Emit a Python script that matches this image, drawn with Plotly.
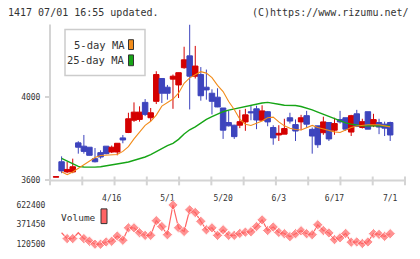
import plotly.graph_objects as go

# ---------------- data ----------------
idx = list(range(61))
tick_idx = [10, 20, 30, 40, 50, 60]
tick_text = ["4/16", "5/1", "5/20", "6/3", "6/17", "7/1"]

opens = [3616, 3690, 3641, 3641, 3781, 3765, 3760, 3705, 3734, 3765,
         3737, 3737, 3805, 3831, 3890, 3894, 3976, 3902, 3981, 4091,
         4049, 4088, 4060, 4143, 4200, 4102, 4110, 4049, 4020, 4001,
         3949, 3879, 3866, 3866, 3882, 3931, 3945, 3890, 3931, 3855,
         3819, 3823, 3902, 3869, 3882, 3912, 3846, 3863, 3830, 3879,
         3842, 3893, 3902, 3833, 3921, 3855, 3931, 3863, 3879, 3871,
         3879]
highs = [3618, 3716, 3690, 3705, 3789, 3819, 3760, 3756, 3745, 3765,
         3768, 3779, 3819, 3926, 3976, 3957, 3992, 3949, 4126, 4091,
         4060, 4110, 4120, 4244, 4351, 4248, 4146, 4134, 4039, 4044,
         3949, 3937, 3868, 3940, 3945, 3960, 3960, 3962, 3934, 3866,
         3866, 3897, 3926, 3894, 3916, 3935, 3855, 3863, 3907, 3879,
         3902, 3935, 3902, 3916, 3940, 3897, 3931, 3921, 3897, 3883,
         3883]
lows = [3616, 3635, 3635, 3635, 3729, 3729, 3720, 3687, 3705, 3726,
        3732, 3721, 3779, 3828, 3882, 3883, 3910, 3886, 3968, 3973,
        3989, 3945, 3997, 4138, 3942, 4091, 3984, 3989, 3918, 3953,
        3800, 3860, 3800, 3852, 3839, 3890, 3847, 3886, 3861, 3772,
        3790, 3823, 3874, 3790, 3842, 3853, 3729, 3757, 3820, 3790,
        3820, 3874, 3839, 3814, 3857, 3850, 3847, 3857, 3823, 3814,
        3790]
closes = [3618, 3646, 3653, 3666, 3760, 3740, 3721, 3690, 3713, 3729,
          3760, 3779, 3795, 3897, 3929, 3929, 3918, 3926, 4110, 4020,
          4020, 4102, 4119, 4181, 4102, 4151, 4008, 4036, 3981, 3954,
          3842, 3863, 3811, 3883, 3916, 3926, 3891, 3935, 3882, 3805,
          3827, 3850, 3886, 3838, 3902, 3871, 3814, 3772, 3882, 3800,
          3874, 3882, 3847, 3912, 3860, 3883, 3847, 3893, 3857, 3852,
          3819]

ma5 = [None, 3642, 3628, 3641, 3658, 3676, 3694, 3710, 3720, 3722,
       3722, 3725, 3740, 3763, 3800, 3835, 3865, 3885, 3915, 3958,
       3975, 3992, 4020, 4068, 4094, 4111, 4124, 4117, 4095, 4058,
       4028, 3980, 3942, 3895, 3871, 3865, 3874, 3886, 3902, 3905,
       3882, 3863, 3851, 3845, 3843, 3856, 3865, 3855, 3847, 3842,
       3834, 3831, 3842, 3855, 3862, 3866, 3868, 3868, 3868, 3863,
       3858]
ma25 = [None, 3706, 3693, 3679, 3668, 3665, 3664, 3664, 3666, 3670,
        3673, 3680, 3684, 3689, 3696, 3704, 3713, 3724, 3740, 3756,
        3768, 3779, 3798, 3824, 3844, 3858, 3877, 3894, 3907, 3920,
        3931, 3939, 3945, 3949, 3956, 3964, 3970, 3973, 3976, 3973,
        3967, 3962, 3962, 3961, 3956, 3949, 3940, 3929, 3918, 3908,
        3896, 3887, 3877, 3871, 3866, 3863, 3863, 3863, 3863, 3863,
        3863]

volume = [None, 267300, 192000, 192000, 267300, 192000, 158100, 120500, 120500, 149400,
          158100, 224600, 170700, 330000, 330000, 267300, 233400, 233400, 421600, 346400,
          242200, 622400, 330000, 283600, 559700, 525800, 412900, 304900, 330000, 233400,
          304900, 233400, 233400, 258500, 274800, 279900, 346400, 431700, 296200, 340100,
          271100, 254800, 217100, 254800, 292400, 254800, 242200, 368900, 296200, 264800,
          179500, 202100, 258500, 145600, 149400, 129300, 149400, 254800, 246000, 220900,
          254800]
vol_ticks = [120500, 371450, 622400]
price_ticks = [3600, 4000]

# ---------------- style ----------------
W, H = 420, 259
L, R = 50, 15
RED = "#d40000"
BLUE = "#3d44bd"
ORANGE = "#f28c1a"
GREEN = "#16a516"
PINK = "#ff6464"
AX = "#d4d4d4"
TXT = "#333333"
MONO = "DejaVu Sans Mono"


def px(x):
    return (x - L) / (W - L - R)


def py(y):
    return 1 - y / H


vol_marker_size = [0 if i in (1, 4) else 8 for i in idx]

fig = go.Figure()
fig.add_trace(go.Scatter(x=idx, y=ma25, mode="lines", line=dict(color=GREEN, width=1.4),
                         showlegend=False, xaxis="x", yaxis="y"))
fig.add_trace(go.Scatter(x=idx, y=ma5, mode="lines", line=dict(color=ORANGE, width=1.1),
                         showlegend=False, xaxis="x", yaxis="y"))
fig.add_trace(go.Candlestick(
    x=idx, open=opens, high=highs, low=lows, close=closes,
    increasing=dict(line=dict(color=RED, width=1), fillcolor=RED),
    decreasing=dict(line=dict(color=BLUE, width=1), fillcolor=BLUE),
    whiskerwidth=0, showlegend=False, xaxis="x", yaxis="y"))
fig.add_trace(go.Scatter(x=idx, y=volume, mode="lines+markers",
                         line=dict(color=PINK, width=1.2),
                         marker=dict(symbol="diamond", size=vol_marker_size, color=PINK),
                         showlegend=False, xaxis="x", yaxis="y2"))

shapes = []
# axis lines
shapes.append(dict(type="line", xref="paper", yref="paper", x0=px(50), x1=px(50),
                   y0=py(188), y1=py(25), line=dict(color=AX, width=2)))
shapes.append(dict(type="line", xref="paper", yref="paper", x0=px(50), x1=px(405),
                   y0=py(184), y1=py(184), line=dict(color=AX, width=2)))
for k in range(12):
    xx = 50 + k * (355 / 11)
    shapes.append(dict(type="line", xref="paper", yref="paper", x0=px(xx), x1=px(xx),
                       y0=py(189), y1=py(180), line=dict(color=AX, width=2)))
# MA legend box
shapes.append(dict(type="rect", xref="paper", yref="paper", x0=px(65), x1=px(145),
                   y0=py(77), y1=py(30), line=dict(color="#cccccc", width=1.5),
                   fillcolor="white"))
shapes.append(dict(type="rect", xref="paper", yref="paper", x0=px(128.5), x1=px(133.5),
                   y0=py(50.5), y1=py(40.5), line=dict(color="#333333", width=1),
                   fillcolor=ORANGE))
shapes.append(dict(type="rect", xref="paper", yref="paper", x0=px(128.5), x1=px(133.5),
                   y0=py(67), y1=py(56), line=dict(color="#333333", width=1),
                   fillcolor=GREEN))
# volume legend swatch
shapes.append(dict(type="rect", xref="paper", yref="paper", x0=px(101), x1=px(107),
                   y0=py(228), y1=py(213), line=dict(color="#333333", width=1),
                   fillcolor=PINK))

annotations = [
    dict(text="1417 07/01 16:55 updated.", xref="paper", yref="paper", x=px(6), y=py(12.5),
         xanchor="left", yanchor="middle", showarrow=False, font=dict(family=MONO, size=10, color=TXT)),
    dict(text="(C)https://www.rizumu.net/", xref="paper", yref="paper", x=px(411), y=py(12.5),
         xanchor="right", yanchor="middle", showarrow=False, font=dict(family=MONO, size=10, color=TXT)),
    dict(text="5-day MA", xref="paper", yref="paper", x=px(127), y=py(45.5),
         xanchor="right", yanchor="middle", showarrow=False, font=dict(family=MONO, size=10.5, color=TXT)),
    dict(text="25-day MA", xref="paper", yref="paper", x=px(127), y=py(61.5),
         xanchor="right", yanchor="middle", showarrow=False, font=dict(family=MONO, size=10.5, color=TXT)),
    dict(text="Volume", xref="paper", yref="paper", x=px(58.5), y=py(221.5),
         xanchor="left", yanchor="middle", showarrow=False, font=dict(family=MONO, size=9.5, color=TXT)),
]

fig.update_layout(
    width=W, height=H, autosize=False,
    margin=dict(l=L, r=R, t=0, b=0, pad=0),
    paper_bgcolor="white", plot_bgcolor="white",
    boxgap=0.02, boxgroupgap=0,
    showlegend=False,
    shapes=shapes, annotations=annotations,
    xaxis=dict(range=[-1.08, 62.66], anchor="y", tickvals=tick_idx, ticktext=tick_text,
               ticks="outside", ticklen=10, tickcolor="rgba(0,0,0,0)",
               showline=False, showgrid=False, zeroline=False,
               rangeslider=dict(visible=False),
               tickfont=dict(family=MONO, size=8, color=TXT)),
    yaxis=dict(domain=[py(184), py(25)], range=[3600, 4351], tickvals=price_ticks,
               ticktext=[str(v) for v in price_ticks],
               ticks="outside", ticklen=4, tickcolor=AX, tickwidth=1.5,
               ticklabelstandoff=3,
               showline=False, showgrid=False, zeroline=False,
               tickfont=dict(family=MONO, size=8, color=TXT)),
    yaxis2=dict(domain=[py(254), py(204)], range=[57762, 685138], anchor="x",
                tickvals=vol_ticks, ticktext=[str(v) for v in vol_ticks],
                ticks="outside", ticklen=2, tickcolor="rgba(0,0,0,0)",
                showline=False, showgrid=False, zeroline=False,
                tickfont=dict(family=MONO, size=8, color=TXT)),
)

fig.write_html("out.html")
